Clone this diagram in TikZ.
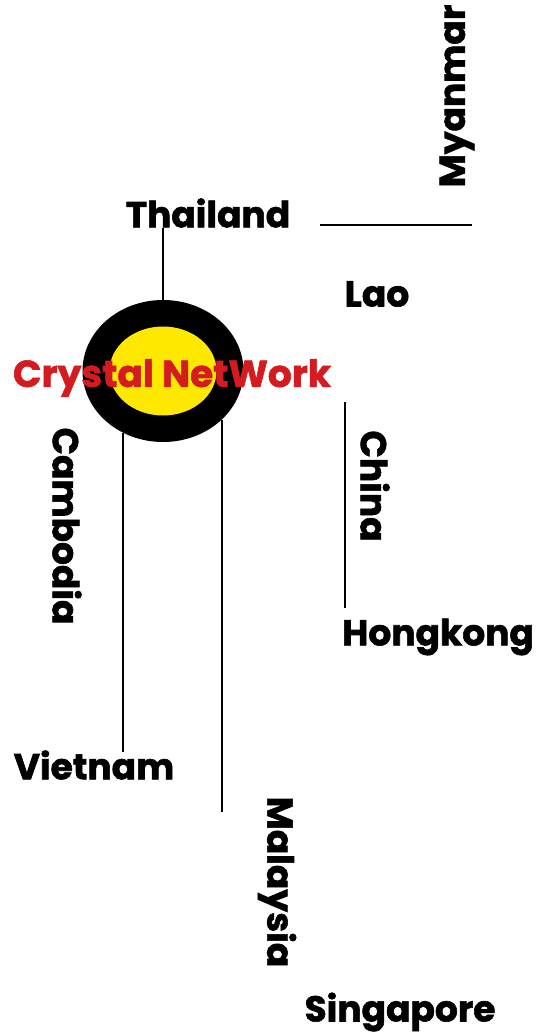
\documentclass[tikz,border=0pt]{standalone}
\usepackage{fontspec}
\setmainfont{Poppins}[BoldFeatures={FakeBold=1.6}]
\usepackage{tikz}
\usetikzlibrary{positioning,shapes.geometric}
\usepackage{xcolor}
\definecolor{netred}{RGB}{212,28,32}
\definecolor{netyellow}{RGB}{255,232,0}

\begin{document}
\begin{tikzpicture}[x=1pt,y=-1pt,
  country/.style={font=\fontsize{36}{36}\selectfont\bfseries,inner sep=0pt},
  link/.style={line width=2.4pt}]
\useasboundingbox (0,0) rectangle (547,1036);
\node[ellipse,fill=black,minimum width=161pt,minimum height=142pt,inner sep=0pt] (ring) at (163,371) {};
\node[ellipse,fill=netyellow,minimum width=107pt,minimum height=89pt,inner sep=0pt] (core) at (163,371) {};
\node[country,text=netred,font=\fontsize{37.5}{37.5}\selectfont\bfseries] (hub) at (172,378) {Crystal NetWork};
\node[country] (thai) at (208,213) {Thailand};
\node[country,rotate=90] (myan) at (457,96) {Myanmar};
\node[country] (lao) at (377,294) {Lao};
\node[country,rotate=-90] (china) at (375,486) {China};
\node[country] (hk) at (438,637) {Hongkong};
\node[country,rotate=-90] (camb) at (67,526) {Cambodia};
\node[country] (viet) at (94,765) {Vietnam};
\node[country,rotate=-90] (malay) at (277,882) {Malaysia};
\node[country] (sing) at (400,1012) {Singapore};
\coordinate (h1) at (320,225);
\coordinate (h2) at (472,225);
\coordinate (c1) at (345,402);
\coordinate (c2) at (345,608);
\coordinate (v1) at (123,433);
\coordinate (v2) at (123,752);
\coordinate (m1) at (222,420);
\coordinate (m2) at (222,812);
\draw[link] (thai.south -| ring.north) -- (ring.north);
\draw[link] (h1) -- (h2);
\draw[link] (c1) -- (c2);
\draw[link] (v1) -- (v2);
\draw[link] (m1) -- (m2);
\end{tikzpicture}
\end{document}
